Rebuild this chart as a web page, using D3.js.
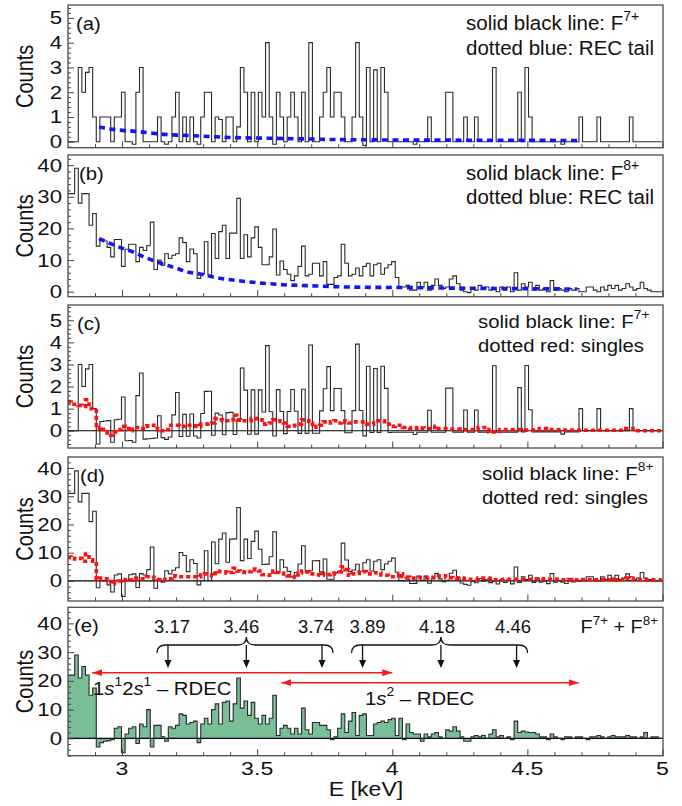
<!DOCTYPE html>
<html>
<head>
<meta charset="utf-8">
<style>
body { margin: 0; background: #fff; }
svg { display: block; font-family: "Liberation Sans", Arial, sans-serif; }
.tick line { stroke: #444; }
.domain { display: none; }
</style>
</head>
<body>
<script src="https://d3js.org/d3.v7.min.js"></script>
<script>

// histogram binning (keV)
var binStart = 2.798,
    binWidth = 0.01333;

// (a) F7+ spectrum
var f7 = [0,0,0,3,2,2.8,3,1,0,1, 1,1,0,1,1,2,0,0,-0.1,2, 3,0,0,0,0,1,0,-0.1,0,1,
  2,0,1,0,1,0,-0.1,1,2,2, 0,1,0.9,0,1,1,0,0.6,3,2, 0,2,0,2,1,4,1,-0.1,2,1,
  0,1,2,1,0,2,0,4,0,0, 1,2,3,1,2,2,
  1,0,0,1,4,1,-0.15,3,0,2.9, 0,3,2,0,0,0,0,0,0,0, -0.1,0,0,0,1,0,0,0,0,2,
  2,0,0,0,1,0,0,1,0,0, 0,0,3,0,0,0,0,0,0,2, 0,3,1,0,0,0,0,0,0,0,
  0,-0.1,0,0,0,0,1,0,0,0, 0,1,0,0,0,0,0,0,0,0, 1,0,0,0,0,0,0,0,0];

// (b) F8+ spectrum
var f8 = [31,31,39,28,31,31,21,24.7,14.4,16.5, 16,14,11,16.5,16.5,8,13.4,15,15,9.5,
  14,13,14.5,22,7,10,8.4,12,10.5,11.5, 12,17,15.5,9.5,13.5,12,4.2,5.5,15.8,5,
  18.4,10.5,19,21,10.5,18.5,18.5,29.5,10.5,18, 11,17,20.5,14,8.5,8.5,11,19.8,5.3,9.7,
  7,5.5,3.5,5,8,14.4,5,5.5,9,9, 5,9.5,2.3,2.3,4.5,5,
  15,9,5,5.5,7.5,5,8,9,5,8.5, 9,5.5,7.5,8.5,9.5,4.5,1.5,1.5,2,0.5,
  0.5,3,1.5,3,0.5,2,4,2,1,1.5, 4,5,2.5,0.5,0,-0.3,1,0.5,2,1,
  1.5,0.5,1,0,1.5,0.5,1.5,0,6,0.5, 2.5,1.5,3,0.5,2,0.5,1,0,3.5,0.5,
  1,0.5,0,1,0.5,1,0,0,1.5,1.5, 0.5,0,1.5,0.5,2,1,2,0.5,1,2.5, 1.5,0.5,1,3,1,0.5,0,0,0];

// REC tails, [E, counts]
var recTail7 = [[2.915,0.6],[2.955,0.52],[3.0,0.46],[3.04,0.43],[3.1,0.36],[3.165,0.29],
  [3.23,0.26],[3.29,0.23],[3.35,0.2],[3.41,0.17],[3.5,0.15],[3.6,0.13],[3.7,0.11],
  [3.78,0.09],[3.9,0.08],[4.0,0.07],[4.2,0.065],[4.4,0.06],[4.55,0.055],[4.685,0.05]];
var recTail8 = [[2.915,16.8],[2.955,15.3],[2.992,14],[3.04,12.6],[3.078,11.1],[3.127,9.5],
  [3.165,8.4],[3.202,7.4],[3.238,6.3],[3.288,5.6],[3.35,4.4],[3.41,3.7],[3.473,3.05],
  [3.534,2.6],[3.596,2.2],[3.658,2.0],[3.72,1.8],[3.78,1.6],[3.9,1.4],[4.05,1.3],
  [4.2,1.15],[4.35,1.05],[4.5,0.95],[4.685,0.85]];

// (c) F7+ with REC tail removed
var f7sub = [0,0,0,3,2,2.8,3,1,-0.6,0.42, 0.44,0.46,-0.52,0.5,0.52,1.53,-0.45,-0.44,-0.52,1.59,
  2.61,-0.38,-0.36,-0.35,-0.33,0.68,-0.31,-0.39,-0.28,0.72, 1.73,-0.26,0.74,-0.25,0.76,-0.24,-0.33,0.78,1.78,1.79,
  -0.2,0.8,0.71,-0.18,0.82,0.83,-0.17,0.43,2.84,1.84, -0.16,1.85,-0.15,1.85,0.85,3.85,0.86,-0.24,1.86,0.87,
  -0.13,0.87,1.87,0.88,-0.12,1.88,-0.12,3.88,-0.11,-0.11, 0.9,1.9,2.9,0.91,1.91,1.91,
  0.91,-0.09,-0.09,0.91,3.92,0.92,-0.23,2.92,-0.08,2.82, -0.08,2.92,1.92,-0.08,-0.07,-0.07,-0.07,-0.07,-0.07,-0.07,
  -0.17,-0.07,-0.07,-0.07,0.93,-0.07,-0.07,-0.07,-0.07,1.93, 1.93,-0.06,-0.06,-0.06,0.94,-0.06,-0.06,0.94,-0.06,-0.06,
  -0.06,-0.06,2.94,-0.06,-0.06,-0.06,-0.06,-0.06,-0.06,1.95, -0.05,2.95,0.95,-0.05,-0.05,-0.05,-0.05,-0.05,-0.05,-0.05,
  -0.05,-0.15,-0.05,-0.05,-0.05,-0.05,1,0,0,0, 0,1,0,0,0,0,0,0,0,0, 1,0,0,0,0,0,0,0,0];

// (d) F8+ with REC tail removed
var f8sub = [31,31,39,28,31,31,21,24.7,-2.4,0.1, 0.1,-1.4,-3.9,2.1,2.5,-5.5,0.2,2.2,2.5,-2.3,
  2.6,2.1,4,12,-2.6,0.8,-0.4,3.6,2.5,3.8, 4.7,10.1,9,3.3,7.5,6.2,-1.4,0.15,10.7,0.15,
  13.8,6.1,14.8,17,6.65,14.8,14.9,26,7.2,14.8, 7.95,14,17.65,11.25,5.85,5.95,8.55,17.45,3,7.5,
  4.85,3.4,1.45,3,6,12.45,3.1,3.6,7.15,7.2, 3.2,7.75,0.6,0.6,2.85,3.4,
  13.4,7.4,3.4,3.9,5.9,3.45,6.45,7.5,3.5,7, 7.5,4,6,7,8.1,3.1,0.1,0.1,0.6,-0.9,
  -0.85,1.7,0.2,1.7,-0.8,0.7,2.7,0.75,-0.25,0.25, 2.75,3.8,1.3,-0.7,-1.2,-1.5,-0.15,-0.65,0.85,-0.1,
  0.4,-0.6,-0.1,-1.1,0.45,-0.55,0.45,-1.05,4.95,-0.5, 1.5,0.5,2,-0.5,1,-0.45,0.05,-0.95,2.6,-0.4,
  0.1,-0.4,-0.9,0.1,-0.35,0.15,0,0,1.5,1.5, 0.5,0,1.5,0.5,2,1,2,0.5,1,2.5, 1.5,0.5,1,3,1,0.5,0,0,0];

// singles, scaled (red dotted)
var singles7 = [1.3,1.2,1.2,1.15,1.1,1.4,1,1,0.1,0.15, -0.05,-0.1,-0.2,-0.05,0.05,0.2,0.1,0,0.15,0.15,
  0.1,0.2,0.22,0.25,0.1,0.05,0,0.05,0.25,0.25, 0.25,0.2,0.2,0.25,0.25,0.22,0.2,0.3,0.3,0.32,
  0.35,0.55,0.5,0.45,0.45,0.5,0.7,0.5,0.45,0.45, 0.45,0.55,0.55,0.5,0.3,0.32,0.35,0.5,0.45,0.42,
  0.35,0.2,0.22,0.25,0.3,0.5,0.45,0.35,0.15,0.2, 0.25,0.4,0.35,0.4,0.45,0.35,
  0.45,0.4,0.35,0.4,0.4,0.4,0.4,0.3,0.3,0.45, 0.45,0.45,0.3,0.3,0.2,0.25,0.25,0.15,0.15,0.1,
  0.12,0.15,0.12,0.1,0.1,0.15,0.2,0.1,0.1,0.1, 0.08,0.08,0.08,0.05,0.05,0.05,0.05,0.05,0.15,0.15,
  0.15,-0.05,-0.05,-0.03,0.05,0.05,0.05,0.05,0.05,0.05, 0.03,0.03,0.03,0.03,0.03,0.1,0.1,0.05,0.05,0.05,
  0.05,0.03,0.03,0.03,0.03,0.02,0.02,0.02,0.02,0.02, 0.02,0.02,0.02,0.02,0.02,0.02,0.02,0.02,0.02,0.1,
  0.1,0,0,0,0,0,0,0,0];
var singles8 = [8.5,8,7.8,8,7,9.5,7.5,7,0.5,1, 0.8,0.5,-1,-0.5,0,0.5,0.2,0.3,0.5,1,
  0.8,0.8,1.5,1.3,1,0.5,0.3,0.5,0.8,1.8, 1.6,1.5,1.5,1.5,1.5,1.5,1.4,2.2,2.5,2.3,
  1.8,3.5,3.3,3.2,2.8,3,4.5,3.5,3.2,3, 3.3,4.2,4,3.5,2.2,2.1,2,3.5,3,2.8,
  2.5,1.8,1.5,1.2,2.8,3.5,3.2,2.5,2.5,2.3, 2,2.6,2.2,2.4,2.8,3.2,
  5,4,2,2.5,2.7,3.3,3.3,2.5,2.5,2.9, 2.9,2.1,2,1.5,1.5,1.8,2.5,1.5,1.4,1,
  1,1.2,1.2,1.1,1.3,1.3,1.3,1.8,1.8,1.2, 1.2,1.1,1,1,0.8,0.6,0.6,0.6,1,1,
  1,0.9,0.4,0.4,0.4,0.6,0.6,0.6,0.6,0.6, 0.6,0.6,0.6,0.8,0.8,0.8,0.7,0.6,0.6,0.6,
  0.5,0.4,0.4,0.5,0.4,0.3,0.4,0.5,0.4,0.4, 0.3,0.4,0.5,0.4,0.4,0.3,0.4,0.5,0.4,1,
  0.9,0.4,0.4,0.4,0.3,0.4,0.4,0.4,0.4];

// (e) F7+ + F8+ after subtraction
var sumSpec = [22,22,29,21,25,22,15,17.5,-3,-1.5, -1,-0.8,-0.5,3.5,4,-5,1.5,3.5,4,-1.8,
  5,4,10,-3,4.5,4.5,0.5,-1,4,3.5, 4.5,8.5,8,5,5.5,6,-1.5,5,7,5,
  10,12,5,12.5,13,6,12,21,10.5,13, 8,12.5,7,5,8,5,7,15,1,3.5,
  4.5,3.5,1.5,3.5,1.5,10.5,3,1.5,5.5,5.5, 4.5,4.5,3,-0.5,0.5,3.5,
  8.5,2,6,9,1,8,8.5,1,1,5, 5.5,6,5.5,6.5,7,1,7,-0.5,5,2,
  1.5,1.5,-1,1.5,0.5,1.5,2,0.5,0,3, 2.5,4,2.5,0.5,-1,-1,0.5,1,0.5,1,
  0,1.5,3,0.5,1,0,0.5,-0.5,6,2, 2.5,2.2,2,2,1.5,0.5,0.5,-0.5,1.5,0.5,
  0,-0.5,0.5,0.5,0,0.5,0.5,0,-0.5,0.5, 0.5,1,0.5,0,0.5,1,0.5,0.5,0.5,1, 0.5,0.5,0,0.5,2,0,0.5,0.5,0];

// RDEC line energies and ranges (keV)
var lines1s2s = [3.17, 3.46, 3.74],
    lines1s2 = [3.89, 4.18, 4.46],
    range1s2s = [2.89, 4.0],
    range1s2 = [3.59, 4.69];

var xTicksMajor = [3, 3.5, 4, 4.5, 5];

var panels = [
  {id: "a", top: 5, bottom: 147.7, yDomain: [-0.24, 5.52], major: 1, minor: 0.2, labelX: 76},
  {id: "b", top: 155, bottom: 296.7, yDomain: [-1.58, 43.2], major: 10, minor: 2, labelX: 79},
  {id: "c", top: 305, bottom: 448, yDomain: [-0.78, 5.69], major: 1, minor: 0.2, labelX: 77},
  {id: "d", top: 457, bottom: 601, yDomain: [-7.1, 43.9], major: 10, minor: 2, labelX: 80},
  {id: "e", top: 607.3, bottom: 755.7, yDomain: [-6.05, 45.6], major: 10, minor: 2, labelX: 74}
];

var left = 68, right = 663;

var svg = d3.select("body").append("svg")
    .attr("width", 682)
    .attr("height", 806);

var x = d3.scaleLinear().domain([2.8, 5.0]).range([68, 662.5]);

var defs = svg.append("defs");
defs.append("marker")
    .attr("id", "redhead")
    .attr("viewBox", "0 0 10 10")
    .attr("preserveAspectRatio", "none")
    .attr("refX", 10).attr("refY", 5)
    .attr("markerUnits", "userSpaceOnUse")
    .attr("markerWidth", 10).attr("markerHeight", 7)
    .attr("orient", "auto-start-reverse")
  .append("path")
    .attr("d", "M0,0L10,5L0,10Z")
    .attr("fill", "#f51a1a");

// text with optional superscript / italic parts, stretched horizontally like the original
function addText(parent, px, py, size, anchor, sx, parts) {
  var t = parent.append("text")
      .attr("transform", "translate(" + px + "," + py + ") scale(" + sx + ",1)")
      .attr("font-size", size)
      .attr("text-anchor", anchor)
      .attr("fill", "#111");
  var shift = 0;
  parts.forEach(function(p) {
    if (typeof p === "string") p = {t: p};
    var s = t.append("tspan").text(p.t);
    var want = p.sup ? -0.45 * size : 0;
    if (want !== shift) { s.attr("dy", want - shift); shift = want; }
    if (p.sup) s.attr("font-size", size * 0.68);
    if (p.it) s.attr("font-style", "italic");
  });
  return t;
}

function histPoints(vals) {
  var pts = vals.map(function(v, i) { return [binStart + i * binWidth, v]; });
  pts.push([binStart + vals.length * binWidth, vals[vals.length - 1]]);
  return pts;
}

panels.forEach(function(p) {
  var y = d3.scaleLinear().domain(p.yDomain).range([p.bottom, p.top]);
  p.y = y;
  var g = svg.append("g").attr("class", "panel-" + p.id);

  defs.append("clipPath").attr("id", "clip-" + p.id)
    .append("rect")
      .attr("x", left).attr("y", p.top)
      .attr("width", right - left).attr("height", p.bottom - p.top);

  var plot = g.append("g").attr("clip-path", "url(#clip-" + p.id + ")");

  var step = d3.line()
      .x(function(d) { return x(d[0]); })
      .y(function(d) { return y(d[1]); })
      .curve(d3.curveStepAfter);

  var smooth = d3.line()
      .x(function(d) { return x(d[0]); })
      .y(function(d) { return y(d[1]); })
      .curve(d3.curveMonotoneX);

  if (p.id === "e") {
    var area = d3.area()
        .x(function(d) { return x(d[0]); })
        .y0(y(0))
        .y1(function(d) { return y(d[1]); })
        .curve(d3.curveStepAfter);
    plot.append("path")
        .datum(histPoints(sumSpec))
        .attr("d", area)
        .attr("fill", "#78bf98");
  }

  if (p.id === "c" || p.id === "d" || p.id === "e") {
    plot.append("line")
        .attr("x1", left).attr("x2", right)
        .attr("y1", y(0)).attr("y2", y(0))
        .attr("stroke", "#000").attr("stroke-width", 1.2);
  }

  var hist = {a: f7, b: f8, c: f7sub, d: f8sub, e: sumSpec}[p.id];
  plot.append("path")
      .datum(histPoints(hist))
      .attr("d", step)
      .attr("fill", "none")
      .attr("stroke", "#2a2a2a")
      .attr("stroke-width", 1.1);

  if (p.id === "a" || p.id === "b") {
    plot.append("path")
        .datum(p.id === "a" ? recTail7 : recTail8)
        .attr("d", smooth)
        .attr("fill", "none")
        .attr("stroke", "#1414f5")
        .attr("stroke-width", 3.6)
        .attr("stroke-dasharray", "6,4.5");
  }

  if (p.id === "c" || p.id === "d") {
    plot.append("path")
        .datum(histPoints(p.id === "c" ? singles7 : singles8))
        .attr("d", step)
        .attr("fill", "none")
        .attr("stroke", "#ff1010")
        .attr("stroke-width", 3.6)
        .attr("stroke-dasharray", "4,3");
  }

  // frame
  g.append("rect")
      .attr("x", left).attr("y", p.top)
      .attr("width", right - left).attr("height", p.bottom - p.top)
      .attr("fill", "none")
      .attr("stroke", "#4a4a4a")
      .attr("stroke-width", 1.3);

  // y ticks, inside the frame
  var lo = p.yDomain[0], hi = p.yDomain[1];
  var majors = d3.range(0, hi + 1e-9, p.major);
  var minors = d3.range(Math.ceil(lo / p.minor) * p.minor, hi, p.minor)
      .filter(function(v) { return Math.abs(v / p.major - Math.round(v / p.major)) > 1e-6; });

  g.append("g")
      .attr("transform", "translate(" + left + ",0)")
      .call(d3.axisLeft(y).tickValues(majors).tickSize(-6).tickFormat(""));
  g.append("g")
      .attr("transform", "translate(" + left + ",0)")
      .call(d3.axisLeft(y).tickValues(minors).tickSize(-3).tickFormat(""));

  majors.forEach(function(v) {
    addText(g, 62, y(v) + 6.5, 18.5, "end", 1.2, [String(v)]);
  });

  // x ticks, inside the bottom edge
  var xMinor = d3.range(2.9, 5.0, 0.1).filter(function(v) {
    return Math.abs(v * 2 - Math.round(v * 2)) > 1e-6;
  });
  g.append("g")
      .attr("transform", "translate(0," + p.bottom + ")")
      .call(d3.axisBottom(x).tickValues(xTicksMajor).tickSize(-6.5).tickFormat(""));
  g.append("g")
      .attr("transform", "translate(0," + p.bottom + ")")
      .call(d3.axisBottom(x).tickValues(xMinor).tickSize(-3.5).tickFormat(""));

  // panel letter and y label
  addText(g, p.labelX, p.top + 25, 19, "start", 1.07, ["(" + p.id + ")"]);
  svg.append("text")
      .attr("transform", "translate(33," + (p.top + p.bottom) / 2 + ") rotate(-90) scale(1,1.15)")
      .attr("text-anchor", "middle")
      .attr("font-size", 20)
      .attr("fill", "#111")
      .text("Counts");
});

// legends
var pa = panels[0], pb = panels[1], pc = panels[2], pd = panels[3];
addText(svg, 466, pa.top + 25, 20.5, "start", 1.0, ["solid black line: F", {t: "7+", sup: true}]);
addText(svg, 466, pa.top + 49.5, 20.5, "start", 1.0, ["dotted blue: REC tail"]);
addText(svg, 466, pb.top + 24.5, 20.5, "start", 1.0, ["solid black line: F", {t: "8+", sup: true}]);
addText(svg, 466, pb.top + 48.5, 20.5, "start", 1.0, ["dotted blue: REC tail"]);
addText(svg, 478, pc.top + 23, 19, "start", 1.07, ["solid black line: F", {t: "7+", sup: true}]);
addText(svg, 478, pc.top + 47, 19, "start", 1.07, ["dotted red: singles"]);
addText(svg, 482, pd.top + 23, 19, "start", 1.07, ["solid black line: F", {t: "8+", sup: true}]);
addText(svg, 482, pd.top + 47, 19, "start", 1.07, ["dotted red: singles"]);

// x axis labels on the bottom panel
xTicksMajor.forEach(function(v) {
  addText(svg, x(v), 775, 18.5, "middle", 1.25, [String(v)]);
});
addText(svg, 366, 796, 21, "middle", 1.1, ["E [keV]"]);

// (e) annotations
addText(svg, 658, 633, 18.5, "end", 1.07, ["F", {t: "7+", sup: true}, " + F", {t: "8+", sup: true}]);

var ann = svg.append("g");
var labelNudge = [[4, -5, -6], [5, -4, -3.5]];
[lines1s2s, lines1s2].forEach(function(set, k) {
  var xs = set.map(x);
  var x0 = xs[0] - 11, x1 = xs[2] + 11, xc = xs[1];
  var yTip = 653, yH = 645, yCusp = 637, r = 9;
  ann.append("path")
      .attr("d", "M" + x0 + "," + yTip +
                 "Q" + x0 + "," + yH + " " + (x0 + r) + "," + yH +
                 "L" + (xc - r) + "," + yH +
                 "Q" + xc + "," + yH + " " + xc + "," + yCusp +
                 "Q" + xc + "," + yH + " " + (xc + r) + "," + yH +
                 "L" + (x1 - r) + "," + yH +
                 "Q" + x1 + "," + yH + " " + x1 + "," + yTip)
      .attr("fill", "none")
      .attr("stroke", "#111")
      .attr("stroke-width", 1.3);
  set.forEach(function(E, j) {
    var xe = x(E);
    ann.append("line")
        .attr("x1", xe).attr("x2", xe)
        .attr("y1", yH).attr("y2", 661)
        .attr("stroke", "#111").attr("stroke-width", 1.3);
    ann.append("path")
        .attr("d", "M" + (xe - 3.5) + ",660L" + (xe + 3.5) + ",660L" + xe + ",668Z")
        .attr("fill", "#111");
    addText(ann, xe + labelNudge[k][j], 633, 18.5, "middle", 1.0, [E.toFixed(2)]);
  });
});

[[range1s2s, 672.7], [range1s2, 682.7]].forEach(function(r) {
  ann.append("line")
      .attr("x1", x(r[0][0])).attr("x2", x(r[0][1]))
      .attr("y1", r[1]).attr("y2", r[1])
      .attr("stroke", "#f51a1a")
      .attr("stroke-width", 1.6)
      .attr("marker-start", "url(#redhead)")
      .attr("marker-end", "url(#redhead)");
});

addText(ann, 93, 695, 19, "start", 1.07,
  ["1", {t: "s", it: true}, {t: "1", sup: true}, "2", {t: "s", it: true}, {t: "1", sup: true}, " \u2013 RDEC"]);
addText(ann, 365, 705, 19, "start", 1.07,
  ["1", {t: "s", it: true}, {t: "2", sup: true}, " \u2013 RDEC"]);

</script>
</body>
</html>
